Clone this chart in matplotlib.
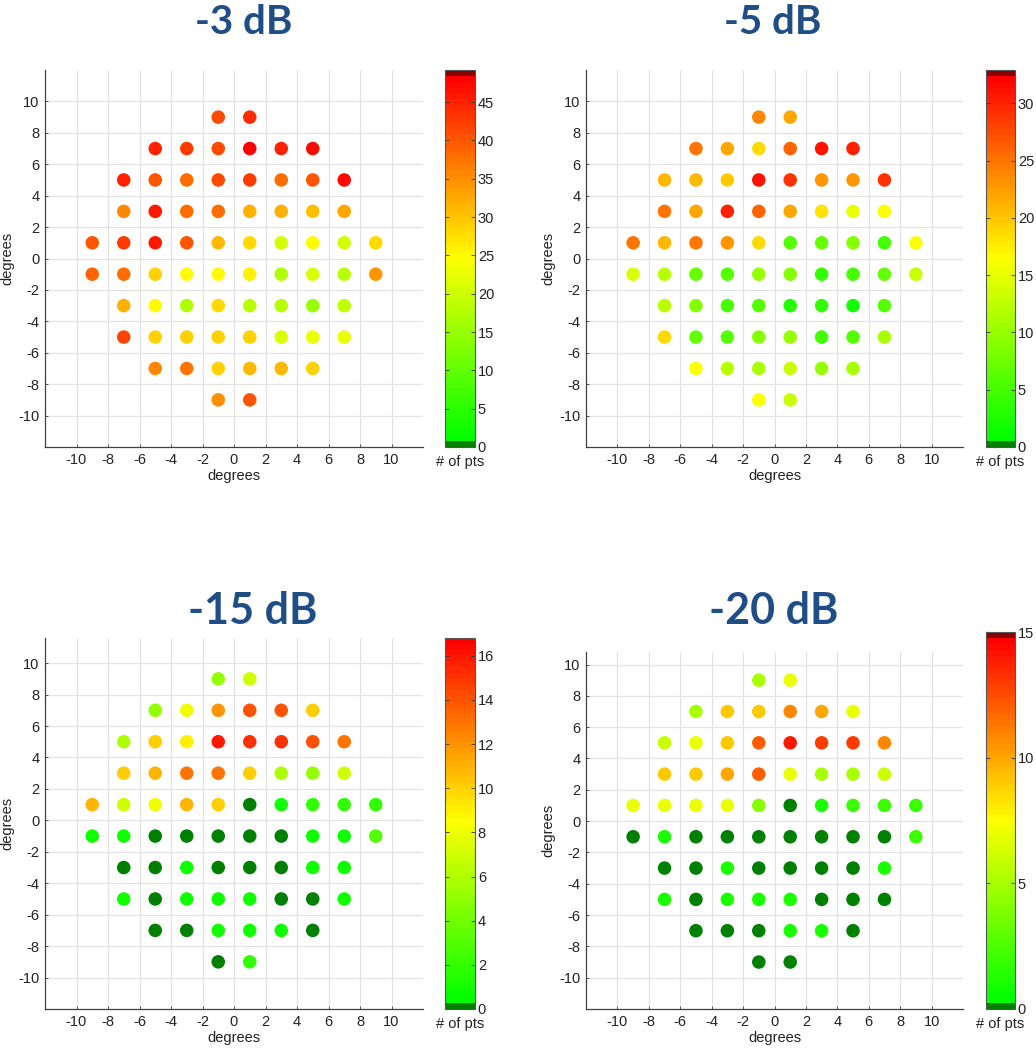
import numpy as np
import matplotlib
matplotlib.use("Agg")
import matplotlib.pyplot as plt
from matplotlib.colors import ListedColormap

plt.rcParams["font.family"] = ["Liberation Sans", "DejaVu Sans"]
plt.rcParams["axes.unicode_minus"] = False

# 10-2 visual field grid, rows top to bottom
row_y = [9, 7, 5, 3, 1, -1, -3, -5, -7, -9]
row_x = [
    [-1, 1],
    [-5, -3, -1, 1, 3, 5],
    [-7, -5, -3, -1, 1, 3, 5, 7],
    [-7, -5, -3, -1, 1, 3, 5, 7],
    [-9, -7, -5, -3, -1, 1, 3, 5, 7, 9],
    [-9, -7, -5, -3, -1, 1, 3, 5, 7, 9],
    [-7, -5, -3, -1, 1, 3, 5, 7],
    [-7, -5, -3, -1, 1, 3, 5, 7],
    [-5, -3, -1, 1, 3, 5],
    [-1, 1],
]

titles = ["-3 dB", "-5 dB", "-15 dB", "-20 dB"]

vals_3db = [
    [41, 44],
    [45, 43, 41, 48, 45, 47],
    [45, 40, 38, 41, 43, 38, 40, 47],
    [36, 46, 38, 38, 32, 32, 30, 33],
    [40, 43, 46, 40, 31, 28, 20, 25, 20, 28],
    [39, 38, 29, 25, 25, 26, 17, 21, 18, 34],
    [32, 25, 17, 28, 18, 18, 15, 19],
    [42, 29, 29, 29, 29, 21, 23, 23],
    [36, 37, 29, 31, 31, 29],
    [35, 40],
]
vals_5db = [
    [24, 22],
    [25, 22, 19, 26, 31, 30],
    [21, 21, 20, 31, 29, 23, 23, 29],
    [25, 22, 30, 26, 22, 18, 15, 16],
    [25, 21, 25, 23, 19, 6, 7, 9, 5, 16],
    [14, 12, 7, 6, 10, 9, 4, 5, 7, 13],
    [12, 9, 5, 6, 3, 4, 2, 6],
    [19, 7, 6, 9, 10, 5, 6, 11],
    [16, 12, 11, 13, 10, 11],
    [16, 13],
]
vals_15db = [
    [5, 7],
    [5, 8, 12, 14, 14, 10],
    [6, 10, 9, 16, 15, 15, 14, 13],
    [10, 11, 13, 13, 10, 6, 5, 7],
    [11, 7, 8, 11, 10, 0, 1, 2, 2, 2],
    [1, 1, 0, 0, 0, 0, 0, 1, 1, 3],
    [0, 0, 1, 0, 0, 0, 1, 1],
    [1, 0, 1, 1, 1, 0, 0, 1],
    [0, 0, 1, 1, 1, 0],
    [0, 2],
]
vals_20db = [
    [5, 7],
    [5, 9, 9, 11, 10, 7],
    [6, 7, 9, 12, 14, 13, 13, 11],
    [9, 9, 10, 12, 7, 5, 5, 6],
    [7, 7, 7, 7, 4, 0, 1, 2, 2, 2],
    [0, 1, 0, 0, 0, 0, 0, 0, 0, 2],
    [0, 0, 1, 0, 0, 0, 0, 1],
    [1, 0, 1, 1, 1, 0, 0, 0],
    [0, 0, 0, 1, 1, 0],
    [0, 0],
]
all_vals = [vals_3db, vals_5db, vals_15db, vals_20db]

cbar_max = [49.2, 32.9, 16.8, 15.0]
cbar_ticks = [list(range(0, 46, 5)), list(range(0, 31, 5)),
              list(range(0, 17, 2)), [0, 5, 10, 15]]
dark_top = [True, True, False, True]

W, H = 1036, 1050
fig = plt.figure(figsize=(W / 100, H / 100), dpi=100)


def rect(x0, y0, x1, y1):
    return [x0 / W, 1 - y1 / H, (x1 - x0) / W, (y1 - y0) / H]


ax_rects = [(45, 70, 423, 447), (586, 70, 963, 447),
            (45, 638, 423, 1009), (586, 652, 963, 1009)]
cb_rects = [(445, 70, 475, 447), (986, 70, 1015, 447),
            (445, 638, 475, 1009), (986, 632, 1015, 1009)]
ylims = [(-12, 12), (-12, 12), (-12, 11.6), (-12, 10.8)]
title_pos = [(244, 22, 29), (773, 22, 29), (253, 611, 31), (774, 611, 31)]


def make_cmap(top):
    n = 64
    cols = [(0.0, 0.5, 0.0)]
    m = n - 2 if top else n - 1
    for i in range(m):
        t = i / (m - 1)
        if t < 0.5:
            cols.append((2 * t, 1.0, 0.0))
        else:
            cols.append((1.0, 2 * (1 - t), 0.0))
    if top:
        cols.append((0.55, 0.0, 0.0))
    return ListedColormap(cols)


title_color = "#1f4e86"
tick_fs = 10.5

for k in range(4):
    xs, ys, cs = [], [], []
    for yy, xrow, vrow in zip(row_y, row_x, all_vals[k]):
        for xx, vv in zip(xrow, vrow):
            xs.append(xx)
            ys.append(yy)
            cs.append(vv)
    ax = fig.add_axes(rect(*ax_rects[k]))
    cmap = make_cmap(dark_top[k])
    sc = ax.scatter(xs, ys, c=cs, cmap=cmap, vmin=0, vmax=cbar_max[k],
                    s=95, linewidths=0, zorder=3)
    ax.set_xlim(-12, 12)
    ax.set_ylim(*ylims[k])
    ticks = list(range(-10, 11, 2))
    ax.set_xticks(ticks)
    ax.set_yticks(ticks)
    ax.grid(True, color="#e3e3e3", linewidth=0.9, zorder=0)
    ax.set_axisbelow(True)
    for s in ("top", "right"):
        ax.spines[s].set_visible(False)
    for s in ("left", "bottom"):
        ax.spines[s].set_color("#404040")
        ax.spines[s].set_linewidth(0.9)
    ax.tick_params(direction="in", length=2, width=0.6, color="#404040",
                   labelsize=tick_fs, labelcolor="#222222", pad=4)
    ax.set_xlabel("degrees", fontsize=tick_fs, color="#222222", labelpad=2)
    ax.set_ylabel("degrees", fontsize=tick_fs, color="#222222")
    ax.yaxis.set_label_coords(-0.082, 0.5)

    cax = fig.add_axes(rect(*cb_rects[k]))
    cb = fig.colorbar(sc, cax=cax)
    cb.set_ticks(cbar_ticks[k])
    cb.outline.set_edgecolor("#555555")
    cb.outline.set_linewidth(0.8)
    cax.tick_params(direction="in", length=3, width=0.6, left=True, right=True,
                    labelsize=tick_fs, labelcolor="#222222", color="#333333", pad=2)
    cax.text(0.5, -0.022, "# of pts", transform=cax.transAxes, ha="center",
             va="top", fontsize=tick_fs, color="#222222")

    tx, ty, tfs = title_pos[k]
    fig.text(tx / W, 1 - ty / H, titles[k], ha="center", va="center",
             fontsize=tfs, fontweight="bold", color=title_color,
             family=["Lato", "DejaVu Sans"])

fig.savefig("out.png", dpi=100)
